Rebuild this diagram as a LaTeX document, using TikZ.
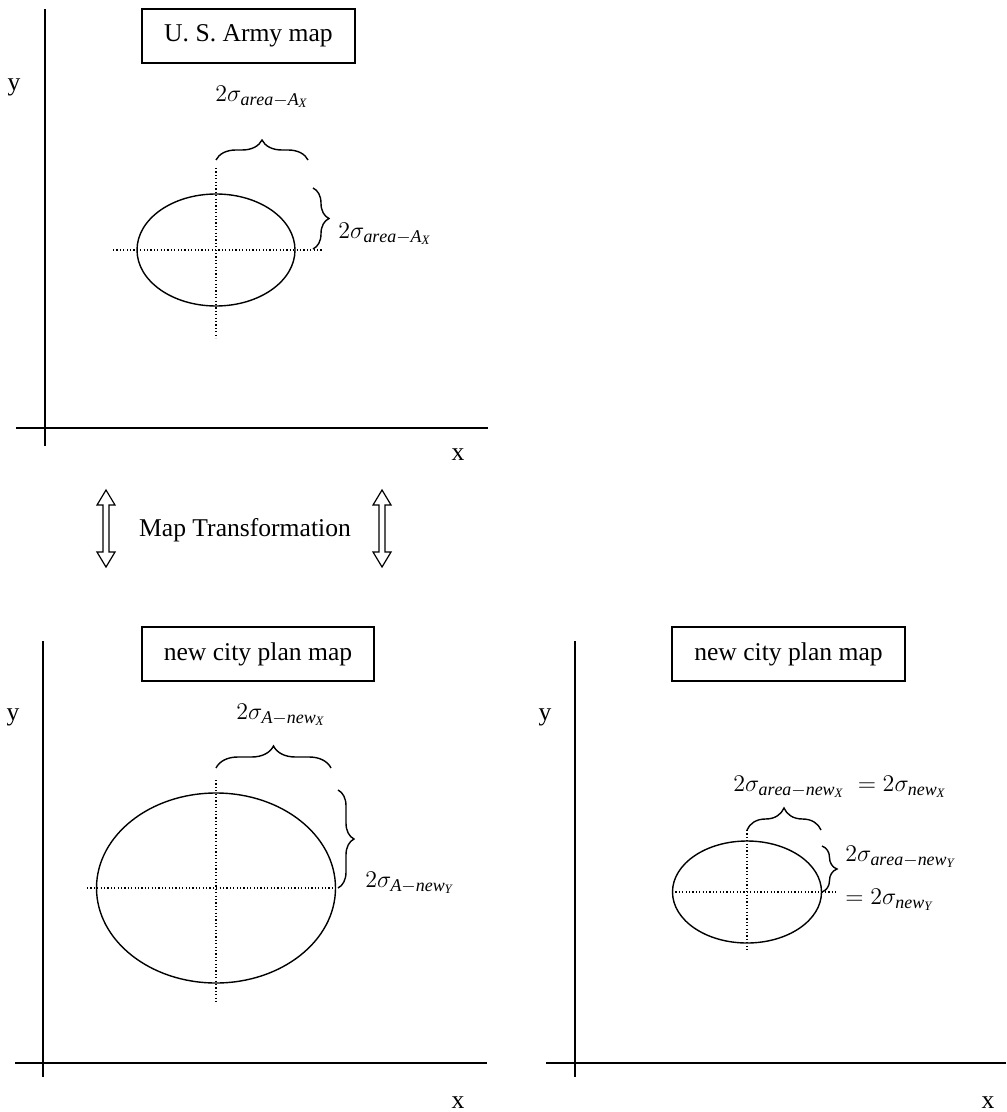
\documentclass[tikz,border=0pt]{standalone}
\usepackage{fontspec}
\setmainfont{Liberation Serif}
\usetikzlibrary{decorations.pathreplacing}

\tikzset{
    axis/.style={line width=0.7pt},
    guide/.style={line width=0.6pt, dash pattern=on 0.6pt off 1.1pt},
    spot/.style={line width=0.7pt},
    titlebox/.style={draw, line width=0.7pt, minimum height=27pt, inner sep=0pt},
    curly/.style={decorate, decoration={brace, amplitude=#1}, line width=0.7pt},
    pics/updown/.style={code={
        \draw[line width=0.6pt] (0,-38.5) -- ++(9,15) -- ++(-6,0) -- ++(0,47) -- ++(6,0)
            -- ++(-9,15) -- ++(-9,-15) -- ++(6,0) -- ++(0,-47) -- ++(-6,0) -- cycle;
    }}
}

\begin{document}
\begin{tikzpicture}[x=0.5pt, y=-0.5pt, font=\fontsize{12.8}{15}\selectfont]
    \useasboundingbox (0,0) rectangle (1006,1112);

    % U. S. Army map
    \coordinate (ya1) at (45,9);
    \coordinate (yb1) at (45,446);
    \coordinate (xa1) at (16,428);
    \coordinate (xb1) at (488,428);
    \draw[axis] (ya1) -- (yb1);
    \draw[axis] (xa1) -- (xb1);
    \node (ylab1) at (14,87) {y};
    \node (xlab1) at (458,455) {x};
    \node[titlebox, minimum width=106.5pt] (title1) at (248.5,36) {U. S. Army map};
    \coordinate (c1) at (216,250);
    \draw[spot] (c1) ellipse [x radius=79, y radius=56];
    \coordinate (ha1) at (113,250);
    \coordinate (hb1) at (322,250);
    \coordinate (va1) at (216,168);
    \coordinate (vb1) at (216,338);
    \draw[guide] (ha1) -- (hb1);
    \draw[guide] (va1) -- (vb1);
    \coordinate (bxa1) at (216,160);
    \coordinate (bxb1) at (308,160);
    \coordinate (bya1) at (313,188);
    \coordinate (byb1) at (313,249);
    \draw[curly=10pt] (bxa1) -- (bxb1);
    \draw[curly=8pt] (bya1) -- (byb1);
    \node (sx1) at (262,97) {$2\sigma_{\mathit{area}-\mathit{A}_\mathit{X}}$};
    \node[anchor=west, inner sep=0pt] (sy1) at (338,234) {$2\sigma_{\mathit{area}-\mathit{A}_\mathit{X}}$};

    % transformation
    \coordinate (arl) at (106,528.5);
    \coordinate (arr) at (382,528.5);
    \pic at (arl) {updown};
    \pic at (arr) {updown};
    \node (trans) at (245,530) {Map Transformation};

    % new city plan map, left
    \coordinate (ya2) at (43,641);
    \coordinate (yb2) at (43,1077);
    \coordinate (xa2) at (15,1063);
    \coordinate (xb2) at (487,1063);
    \draw[axis] (ya2) -- (yb2);
    \draw[axis] (xa2) -- (xb2);
    \node (ylab2) at (13,717) {y};
    \node (xlab2) at (458,1103) {x};
    \node[titlebox, minimum width=116pt] (title2) at (258,654) {new city plan map};
    \coordinate (c2) at (216,888);
    \draw[spot] (c2) ellipse [x radius=119.5, y radius=95];
    \coordinate (ha2) at (87,888);
    \coordinate (hb2) at (337,888);
    \coordinate (va2) at (216,780);
    \coordinate (vb2) at (216,1002);
    \draw[guide] (ha2) -- (hb2);
    \draw[guide] (va2) -- (vb2);
    \coordinate (bxa2) at (216,768);
    \coordinate (bxb2) at (331,768);
    \coordinate (bya2) at (338,790);
    \coordinate (byb2) at (338,888);
    \draw[curly=11pt] (bxa2) -- (bxb2);
    \draw[curly=8pt] (bya2) -- (byb2);
    \node (sx2) at (281,715) {$2\sigma_{\mathit{A}-\mathit{new}_\mathit{X}}$};
    \node[anchor=west, inner sep=0pt] (sy2) at (365,883) {$2\sigma_{\mathit{A}-\mathit{new}_\mathit{Y}}$};

    % new city plan map, right
    \coordinate (ya3) at (575,641);
    \coordinate (yb3) at (575,1077);
    \coordinate (xa3) at (546,1063);
    \coordinate (xb3) at (1006,1063);
    \draw[axis] (ya3) -- (yb3);
    \draw[axis] (xa3) -- (xb3);
    \node (ylab3) at (545,717) {y};
    \node (xlab3) at (988,1103) {x};
    \node[titlebox, minimum width=116.5pt] (title3) at (788.5,654) {new city plan map};
    \coordinate (c3) at (747,892);
    \draw[spot] (c3) ellipse [x radius=74.5, y radius=51];
    \coordinate (ha3) at (672,892);
    \coordinate (hb3) at (837,892);
    \coordinate (va3) at (747,830);
    \coordinate (vb3) at (747,952);
    \draw[guide] (ha3) -- (hb3);
    \draw[guide] (va3) -- (vb3);
    \coordinate (bxa3) at (747,830);
    \coordinate (bxb3) at (821,830);
    \coordinate (bya3) at (822,846);
    \coordinate (byb3) at (822,892);
    \draw[curly=11pt] (bxa3) -- (bxb3);
    \draw[curly=7.5pt] (bya3) -- (byb3);
    \node (sx3) at (840,787) {$2\sigma_{\mathit{area}-\mathit{new}_\mathit{X}} \;= 2\sigma_{\mathit{new}_\mathit{X}}$};
    \node[anchor=west, inner sep=0pt] (sy3) at (845,857) {$2\sigma_{\mathit{area}-\mathit{new}_\mathit{Y}}$};
    \node[anchor=west, inner sep=0pt] (sz3) at (845,900) {$= 2\sigma_{\mathit{new}_\mathit{Y}}$};
\end{tikzpicture}
\end{document}
